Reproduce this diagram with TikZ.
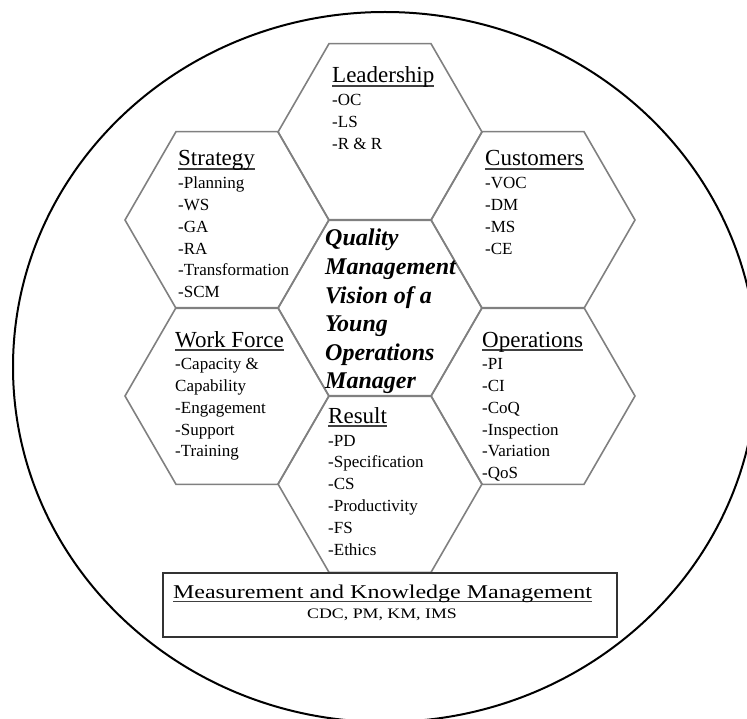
\documentclass[tikz,border=0pt]{standalone}
\usepackage{fontspec}
\setmainfont{Liberation Serif}
\newfontfamily\boxfont{Liberation Serif}[FakeStretch=1.23]
\usetikzlibrary{shapes.geometric}

\newcommand\ulined[2][1.6pt]{\setbox0\hbox{#2}\rlap{\color{black!75}\rule[-4pt]{\wd0}{#1}}\box0}

\tikzset{
    hexcell/.style={regular polygon, regular polygon sides=6, minimum size=204pt,
        inner sep=0pt, draw=black!50, line width=1.6pt},
    heading/.style={anchor=base west, inner sep=0pt, font=\fontsize{23}{26}\selectfont},
    item/.style={anchor=base west, inner sep=0pt, font=\fontsize{17}{20}\selectfont},
}

\begin{document}
\begin{tikzpicture}[x=1pt,y=-1pt]
        \useasboundingbox (0,0) rectangle (747,719);
        \clip (0,0) rectangle (747,719);
        %% outer ring
        \draw[line width=2pt] (385,367) ellipse (372 and 355);
        %% honeycomb
        \foreach \n/\x/\y in {lead/380/132, strat/227/220, cust/533/220, core/380/308,
                              work/227/396, oper/533/396, res/380/484}
            \node[hexcell] (\n) at (\x,\y) {};
        %% leadership
        \node[heading] (leadT) at (332,83) {\ulined{Leadership}};
        \foreach \t [count=\i] in {-OC,-LS,-R \& R}
            \node[item] (lead\i) at (332,{84.3+21.7*\i}) {\t};
        %% strategy
        \node[heading] (stratT) at (178,166) {\ulined{Strategy}};
        \foreach \t [count=\i] in {-Planning,-WS,-GA,-RA,-Transformation,-SCM}
            \node[item] (strat\i) at (178,{167.3+21.7*\i}) {\t};
        %% customers
        \node[heading] (custT) at (485,166) {\ulined{Customers}};
        \foreach \t [count=\i] in {-VOC,-DM,-MS,-CE}
            \node[item] (cust\i) at (485,{167.3+21.7*\i}) {\t};
        %% work force
        \node[heading] (workT) at (175,347) {\ulined{Work Force}};
        \foreach \t [count=\i] in {-Capacity \&,Capability,-Engagement,-Support,-Training}
            \node[item] (work\i) at (175,{348.3+21.7*\i}) {\t};
        %% operations
        \node[heading] (operT) at (482,347) {\ulined{Operations}};
        \foreach \t [count=\i] in {-PI,-CI,-CoQ,-Inspection,-Variation,-QoS}
            \node[item] (oper\i) at (482,{348.3+21.7*\i}) {\t};
        %% result
        \node[heading] (resT) at (328,423) {\ulined{Result}};
        \foreach \t [count=\i] in {-PD,-Specification,-CS,-Productivity,-FS,-Ethics}
            \node[item] (res\i) at (328,{424.2+21.8*\i}) {\t};
        %% centre
        \node[anchor=north west, inner sep=0pt, align=left,
              font=\fontsize{24}{28.6}\selectfont\bfseries\itshape] (vision) at (325,229)
              {Quality\\Management\\Vision of a\\Young\\Operations\\Manager};
        %% measurement box
        \node[draw=black!80, line width=1.5pt, fill=white, minimum width=454pt,
              minimum height=64pt, inner sep=0pt] (mkm) at (390,605) {};
        \node[anchor=base, inner sep=0pt, font=\boxfont\fontsize{19.5}{20}\selectfont]
              (mkmT) at (382.5,598) {\ulined[1pt]{Measurement and Knowledge Management}};
        \node[anchor=base, inner sep=0pt, font=\boxfont\fontsize{14.5}{16}\selectfont]
              (mkmS) at (382,618) {CDC, PM, KM, IMS};
\end{tikzpicture}
\end{document}
